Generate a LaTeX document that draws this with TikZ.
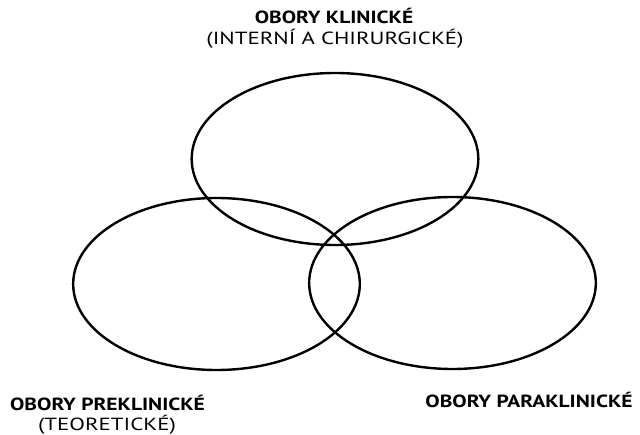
\documentclass[tikz,border=0pt]{standalone}
\usepackage{fontspec}
\setmainfont{PT Sans}[FakeStretch=1.30, BoldFeatures={FakeStretch=1.22}]
\usetikzlibrary{shapes.geometric}

\begin{document}
\begin{tikzpicture}[x=0.75pt, y=-0.75pt, line width=1.8pt,
    obor/.style={ellipse, draw, minimum width=215pt, minimum height=129pt, inner sep=0pt},
    nazev/.style={font=\bfseries\fontsize{13.2}{15}\selectfont, inner sep=0pt, anchor=base},
    popis/.style={font=\fontsize{13.2}{15}\selectfont, inner sep=0pt, anchor=base}]

    \useasboundingbox (0,0) rectangle (640,435);

    % 1. 三个椭圆（三类学科）
    \node[obor] (klin) at (335,159) {};
    \node[obor] (prekl) at (216.5,284) {};
    \node[obor] (parakl) at (452.5,283) {};

    % 2. 上方标签
    \node[nazev] (klinA) at (334,24) {OBORY KLINICKÉ};
    \node[popis] (klinB) at (335,45) {(INTERNÍ A CHIRURGICKÉ)};

    % 3. 左下和右下标签
    \node[nazev] (preklA) at (107.5,410) {OBORY PREKLINICKÉ};
    \node[popis] (preklB) at (107,430) {(TEORETICKÉ)};
    \node[nazev] (paraklA) at (529,407) {OBORY PARAKLINICKÉ};

\end{tikzpicture}
\end{document}
